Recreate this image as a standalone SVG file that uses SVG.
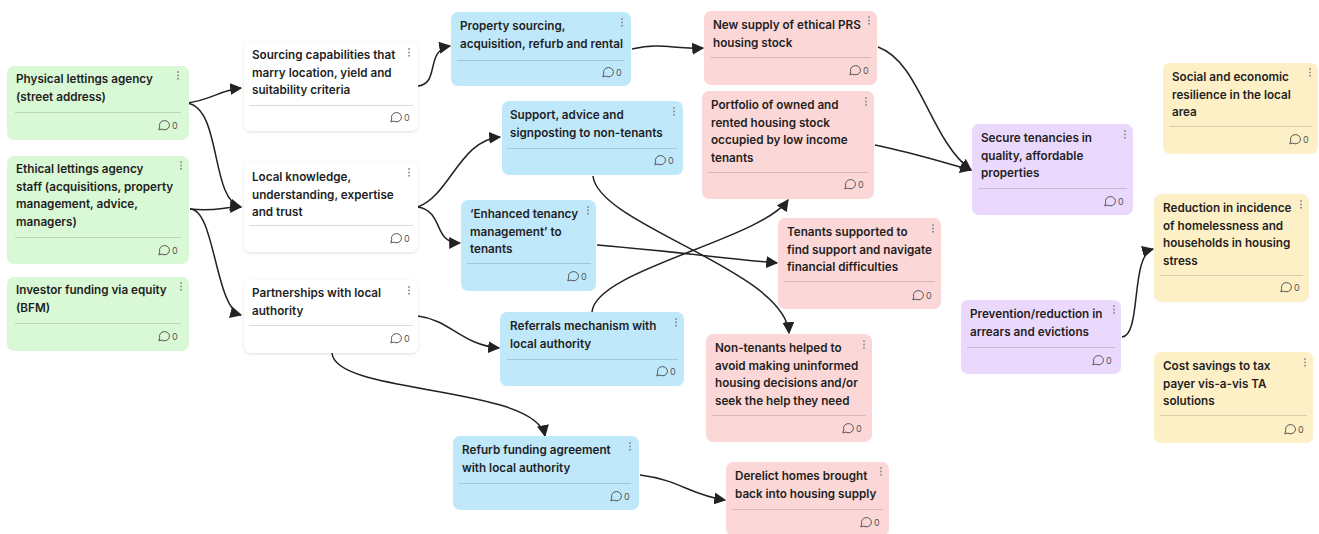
<svg xmlns="http://www.w3.org/2000/svg" width="1319" height="534" viewBox="0 0 1319 534">
  <defs>
    <style>
      .card text.t { font-family: Inter, "Liberation Sans", sans-serif; font-size: 11.7px; font-weight: 600; fill: #1f1f1f; }
      .green rect.box { fill: #d9f8d5; }
      .white rect.box { fill: #ffffff; filter: url(#lift); }
      .blue rect.box { fill: #bfe8fb; }
      .pink rect.box { fill: #fcd7d7; }
      .purple rect.box { fill: #ebd8fd; }
      .yellow rect.box { fill: #fdf0c6; }
      .rule { stroke: #000; stroke-opacity: 0.14; stroke-width: 1; }
      .count { font-family: Inter, "Liberation Sans", sans-serif; font-size: 9px; fill: #555; }
      .links path { fill: none; stroke: #222; stroke-width: 1.5; marker-end: url(#tip); }
    </style>
    <filter id="lift" x="-10%" y="-10%" width="120%" height="130%">
      <feDropShadow dx="0" dy="1" stdDeviation="1.6" flood-color="#000" flood-opacity="0.13"/>
    </filter>
    <marker id="tip" viewBox="0 0 10 10" refX="9" refY="5" markerWidth="12" markerHeight="12" markerUnits="userSpaceOnUse" orient="auto">
      <path d="M0,0 L10,5 L0,10 Z" fill="#222"/>
    </marker>
    <!-- kebab menu: three small dots -->
    <g id="menu">
      <circle cx="0" cy="0" r="0.95" fill="#8a8a8a"/>
      <circle cx="0" cy="3.4" r="0.95" fill="#8a8a8a"/>
      <circle cx="0" cy="6.8" r="0.95" fill="#8a8a8a"/>
    </g>
    <!-- comment bubble -->
    <path id="bubble" d="M-2.2,4.1 A5,4.6 0 1 0 -4.3,1.6 L-5.2,4.9 Z" fill="none" stroke="#555" stroke-width="1"/>
  </defs>

  <rect width="1319" height="534" fill="#ffffff"/>

  <!-- connectors -->
  <g class="links">
    <path d="M187,103 C212,100 220,90 241,88"/>
    <path d="M187,103 C222,108 210,200 241,207"/>
    <path d="M190,209 C215,212 222,207 241,207"/>
    <path d="M190,209 C215,209 215,308 241,315"/>
    <path d="M418,86 C440,84 425,50 450,46"/>
    <path d="M632,49 C665,42 672,50 703,48"/>
    <path d="M878,47 C920,62 930,140 971,170"/>
    <path d="M875,145 C910,152 935,160 971,170"/>
    <path d="M418,207 C450,195 460,140 500,137"/>
    <path d="M418,207 C445,212 432,243 460,243"/>
    <path d="M597,245 C680,252 720,258 777,263"/>
    <path d="M593,176 C598,225 785,270 789,333"/>
    <path d="M592,312 C595,270 760,240 788,200"/>
    <path d="M418,316 C450,320 462,345 499,348"/>
    <path d="M332,353 C335,395 535,385 545,436"/>
    <path d="M640,475 C680,480 690,495 725,500"/>
    <path d="M1122,337 C1142,335 1130,255 1153,249"/>
  </g>

  <!-- inputs -->
  <g id="physical-agency" class="card green" transform="translate(7,66)">
    <rect class="box" width="182" height="74" rx="7"/>
    <text class="t" x="9" y="17">Physical lettings agency</text>
    <text class="t" x="9" y="34.5">(street address)</text>
    <use href="#menu" x="171" y="6"/>
    <line class="rule" x1="8" y1="46.5" x2="174" y2="46.5"/>
    <use href="#bubble" x="157" y="59"/>
    <text class="count" x="165" y="62.5">0</text>
  </g>

  <g id="agency-staff" class="card green" transform="translate(7,156)">
    <rect class="box" width="182" height="108" rx="7"/>
    <text class="t" x="9" y="17">Ethical lettings agency</text>
    <text class="t" x="9" y="34.5">staff (acquisitions, property</text>
    <text class="t" x="9" y="52">management, advice,</text>
    <text class="t" x="9" y="69.5">managers)</text>
    <use href="#menu" x="174" y="6"/>
    <line class="rule" x1="8" y1="81.5" x2="174" y2="81.5"/>
    <use href="#bubble" x="157" y="94"/>
    <text class="count" x="165" y="97.5">0</text>
  </g>

  <g id="investor-funding" class="card green" transform="translate(7,277)">
    <rect class="box" width="182" height="74" rx="7"/>
    <text class="t" x="9" y="17">Investor funding via equity</text>
    <text class="t" x="9" y="34.5">(BFM)</text>
    <use href="#menu" x="174" y="6"/>
    <line class="rule" x1="8" y1="46.5" x2="174" y2="46.5"/>
    <use href="#bubble" x="157" y="59"/>
    <text class="count" x="165" y="62.5">0</text>
  </g>

  <!-- capabilities -->
  <g id="sourcing-capabilities" class="card white" transform="translate(244,42)">
    <rect class="box" width="174" height="89" rx="7"/>
    <text class="t" x="8" y="17">Sourcing capabilities that</text>
    <text class="t" x="8" y="34.5">marry location, yield and</text>
    <text class="t" x="8" y="52">suitability criteria</text>
    <use href="#menu" x="165" y="7"/>
    <line class="rule" x1="5" y1="63.5" x2="169" y2="63.5"/>
    <use href="#bubble" x="152" y="75"/>
    <text class="count" x="160" y="78.5">0</text>
  </g>

  <g id="local-knowledge" class="card white" transform="translate(244,162)">
    <rect class="box" width="174" height="90" rx="7"/>
    <text class="t" x="8" y="19">Local knowledge,</text>
    <text class="t" x="8" y="36.5">understanding, expertise</text>
    <text class="t" x="8" y="54">and trust</text>
    <use href="#menu" x="165" y="7"/>
    <line class="rule" x1="5" y1="63.5" x2="169" y2="63.5"/>
    <use href="#bubble" x="152" y="76"/>
    <text class="count" x="160" y="79.5">0</text>
  </g>

  <g id="la-partnerships" class="card white" transform="translate(244,280)">
    <rect class="box" width="174" height="73" rx="7"/>
    <text class="t" x="8" y="17">Partnerships with local</text>
    <text class="t" x="8" y="34.5">authority</text>
    <use href="#menu" x="165" y="7"/>
    <line class="rule" x1="5" y1="45.5" x2="169" y2="45.5"/>
    <use href="#bubble" x="152" y="58"/>
    <text class="count" x="160" y="61.5">0</text>
  </g>

  <!-- activities -->
  <g id="property-sourcing" class="card blue" transform="translate(451,12)">
    <rect class="box" width="180" height="74" rx="7"/>
    <text class="t" x="9" y="18">Property sourcing,</text>
    <text class="t" x="9" y="35.5">acquisition, refurb and rental</text>
    <use href="#menu" x="171" y="7"/>
    <line class="rule" x1="6" y1="48.5" x2="173" y2="48.5"/>
    <use href="#bubble" x="157" y="60"/>
    <text class="count" x="165" y="63.5">0</text>
  </g>

  <g id="support-non-tenants" class="card blue" transform="translate(502,101)">
    <rect class="box" width="181" height="74" rx="7"/>
    <text class="t" x="8" y="18">Support, advice and</text>
    <text class="t" x="8" y="35.5">signposting to non-tenants</text>
    <use href="#menu" x="172" y="7"/>
    <line class="rule" x1="5" y1="47.5" x2="175" y2="47.5"/>
    <use href="#bubble" x="158" y="59"/>
    <text class="count" x="166" y="62.5">0</text>
  </g>

  <g id="enhanced-management" class="card blue" transform="translate(461,200)">
    <rect class="box" width="135" height="91" rx="7"/>
    <text class="t" x="9" y="18">‘Enhanced tenancy</text>
    <text class="t" x="9" y="35.5">management’ to</text>
    <text class="t" x="9" y="53">tenants</text>
    <use href="#menu" x="127" y="7"/>
    <line class="rule" x1="6" y1="63.5" x2="130" y2="63.5"/>
    <use href="#bubble" x="112" y="76"/>
    <text class="count" x="120" y="79.5">0</text>
  </g>

  <g id="referrals" class="card blue" transform="translate(500,312)">
    <rect class="box" width="184" height="74" rx="7"/>
    <text class="t" x="10" y="18">Referrals mechanism with</text>
    <text class="t" x="10" y="35.5">local authority</text>
    <use href="#menu" x="176" y="7"/>
    <line class="rule" x1="7" y1="47.5" x2="178" y2="47.5"/>
    <use href="#bubble" x="162" y="59"/>
    <text class="count" x="170" y="62.5">0</text>
  </g>

  <g id="refurb-agreement" class="card blue" transform="translate(453,436)">
    <rect class="box" width="186" height="74" rx="7"/>
    <text class="t" x="9" y="18">Refurb funding agreement</text>
    <text class="t" x="9" y="35.5">with local authority</text>
    <use href="#menu" x="177" y="7"/>
    <line class="rule" x1="6" y1="47.5" x2="178" y2="47.5"/>
    <use href="#bubble" x="163" y="60"/>
    <text class="count" x="171" y="63.5">0</text>
  </g>

  <!-- outputs -->
  <g id="new-supply" class="card pink" transform="translate(704,11)">
    <rect class="box" width="173" height="74" rx="7"/>
    <text class="t" x="9" y="18">New supply of ethical PRS</text>
    <text class="t" x="9" y="35.5">housing stock</text>
    <use href="#menu" x="165" y="6"/>
    <line class="rule" x1="6" y1="46.5" x2="167" y2="46.5"/>
    <use href="#bubble" x="151" y="59"/>
    <text class="count" x="159" y="62.5">0</text>
  </g>

  <g id="portfolio" class="card pink" transform="translate(702,91)">
    <rect class="box" width="172" height="108" rx="7"/>
    <text class="t" x="9" y="18">Portfolio of owned and</text>
    <text class="t" x="9" y="35.5">rented housing stock</text>
    <text class="t" x="9" y="53">occupied by low income</text>
    <text class="t" x="9" y="70.5">tenants</text>
    <use href="#menu" x="164" y="7"/>
    <line class="rule" x1="6" y1="81.5" x2="166" y2="81.5"/>
    <use href="#bubble" x="148" y="93"/>
    <text class="count" x="156" y="96.5">0</text>
  </g>

  <g id="tenants-supported" class="card pink" transform="translate(778,218)">
    <rect class="box" width="163" height="91" rx="7"/>
    <text class="t" x="9" y="18">Tenants supported to</text>
    <text class="t" x="9" y="35.5">find support and navigate</text>
    <text class="t" x="9" y="53">financial difficulties</text>
    <use href="#menu" x="155" y="7"/>
    <line class="rule" x1="6" y1="63.5" x2="157" y2="63.5"/>
    <use href="#bubble" x="140" y="77"/>
    <text class="count" x="148" y="80.5">0</text>
  </g>

  <g id="non-tenants-helped" class="card pink" transform="translate(706,334)">
    <rect class="box" width="166" height="108" rx="7"/>
    <text class="t" x="9" y="18">Non-tenants helped to</text>
    <text class="t" x="9" y="35.5">avoid making uninformed</text>
    <text class="t" x="9" y="53">housing decisions and/or</text>
    <text class="t" x="9" y="70.5">seek the help they need</text>
    <use href="#menu" x="158" y="7"/>
    <line class="rule" x1="6" y1="81.5" x2="160" y2="81.5"/>
    <use href="#bubble" x="142" y="94"/>
    <text class="count" x="150" y="97.5">0</text>
  </g>

  <g id="derelict-homes" class="card pink" transform="translate(726,462)">
    <rect class="box" width="163" height="74" rx="7"/>
    <text class="t" x="9" y="18">Derelict homes brought</text>
    <text class="t" x="9" y="35.5">back into housing supply</text>
    <use href="#menu" x="155" y="6"/>
    <line class="rule" x1="6" y1="47.5" x2="157" y2="47.5"/>
    <use href="#bubble" x="140" y="60"/>
    <text class="count" x="148" y="63.5">0</text>
  </g>

  <!-- outcomes -->
  <g id="secure-tenancies" class="card purple" transform="translate(972,124)">
    <rect class="box" width="161" height="91" rx="7"/>
    <text class="t" x="9" y="18">Secure tenancies in</text>
    <text class="t" x="9" y="35.5">quality, affordable</text>
    <text class="t" x="9" y="53">properties</text>
    <use href="#menu" x="153" y="7"/>
    <line class="rule" x1="6" y1="64.5" x2="155" y2="64.5"/>
    <use href="#bubble" x="138" y="77"/>
    <text class="count" x="146" y="80.5">0</text>
  </g>

  <g id="arrears-prevention" class="card purple" transform="translate(961,300)">
    <rect class="box" width="160" height="74" rx="7"/>
    <text class="t" x="9" y="18">Prevention/reduction in</text>
    <text class="t" x="9" y="35.5">arrears and evictions</text>
    <use href="#menu" x="153" y="6"/>
    <line class="rule" x1="6" y1="47.5" x2="154" y2="47.5"/>
    <use href="#bubble" x="137" y="60"/>
    <text class="count" x="145" y="63.5">0</text>
  </g>

  <!-- impacts -->
  <g id="resilience" class="card yellow" transform="translate(1163,63)">
    <rect class="box" width="155" height="91" rx="7"/>
    <text class="t" x="9" y="18">Social and economic</text>
    <text class="t" x="9" y="35.5">resilience in the local</text>
    <text class="t" x="9" y="53">area</text>
    <use href="#menu" x="147" y="6"/>
    <line class="rule" x1="6" y1="63.5" x2="149" y2="63.5"/>
    <use href="#bubble" x="132" y="76"/>
    <text class="count" x="140" y="79.5">0</text>
  </g>

  <g id="homelessness" class="card yellow" transform="translate(1154,194)">
    <rect class="box" width="155" height="108" rx="7"/>
    <text class="t" x="9" y="18">Reduction in incidence</text>
    <text class="t" x="9" y="35.5">of homelessness and</text>
    <text class="t" x="9" y="53">households in housing</text>
    <text class="t" x="9" y="70.5">stress</text>
    <use href="#menu" x="147" y="7"/>
    <line class="rule" x1="6" y1="81.5" x2="149" y2="81.5"/>
    <use href="#bubble" x="132" y="93"/>
    <text class="count" x="140" y="96.5">0</text>
  </g>

  <g id="cost-savings" class="card yellow" transform="translate(1154,352)">
    <rect class="box" width="159" height="91" rx="7"/>
    <text class="t" x="9" y="18">Cost savings to tax</text>
    <text class="t" x="9" y="35.5">payer vis-a-vis TA</text>
    <text class="t" x="9" y="53">solutions</text>
    <use href="#menu" x="151" y="7"/>
    <line class="rule" x1="6" y1="63.5" x2="153" y2="63.5"/>
    <use href="#bubble" x="136" y="77"/>
    <text class="count" x="144" y="80.5">0</text>
  </g>
</svg>
